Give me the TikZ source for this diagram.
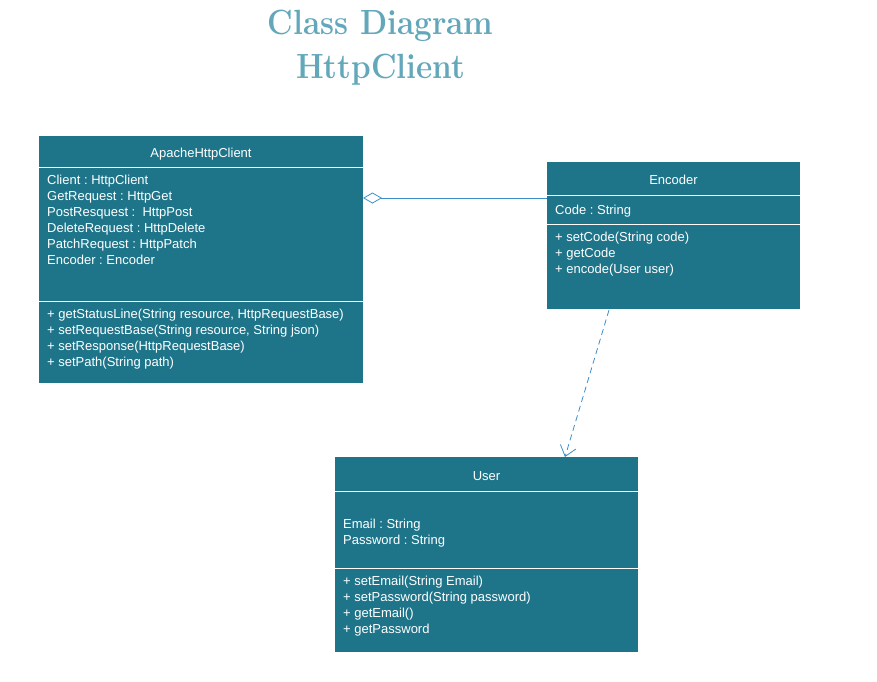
\documentclass[tikz,border=0pt]{standalone}
\usepackage{fontspec}
\setsansfont{Liberation Sans}
\usetikzlibrary{arrows.meta,calc}
\frenchspacing
\definecolor{boxfill}{HTML}{1E758A}
\definecolor{titlecol}{HTML}{63A7BA}
\definecolor{linkcol}{HTML}{3C8DC8}
\tikzset{
  umlbox/.style={draw=none, fill=boxfill, anchor=north west, inner sep=0pt, outer sep=0pt},
  ln/.style={text=white, font=\sffamily\fontsize{13}{15}\selectfont\frenchspacing, anchor=base west, inner sep=0pt},
  hd/.style={text=white, font=\sffamily\fontsize{13}{15}\selectfont, anchor=base, inner sep=0pt},
  divider/.style={draw=white, line width=1pt},
  titletext/.style={text=titlecol, font=\rmfamily\bfseries\fontsize{35}{40}\selectfont, inner sep=0pt, anchor=base}
}
\begin{document}
\begin{tikzpicture}[x=1pt,y=-1pt]
\useasboundingbox (0,0) rectangle (877,681);
% title
\node[titletext] (t1) at (380.5,34) {\scalebox{0.9}[1]{Class Diagram}};
\node[titletext] (t2) at (380.5,78) {\scalebox{0.9}[1]{HttpClient}};
% ApacheHttpClient
\node[umlbox, minimum width=324pt, minimum height=247pt] (apache) at (39,136) {};
\draw[divider] (39,167) -- (363,167);
\draw[divider] (39,301) -- (363,301);
\node[hd] (apT) at (201,157) {ApacheHttpClient};
\foreach \t [count=\i] in {Client : HttpClient, GetRequest : HttpGet, PostResquest :\ \ HttpPost, DeleteRequest : HttpDelete, PatchRequest : HttpPatch, Encoder : Encoder}
  \node[ln] (apA\i) at (47,{180+4.7+(\i-1)*16}) {\t};
\foreach \t [count=\i] in {{+ getStatusLine(String resource, HttpRequestBase)}, {+ setRequestBase(String resource, String json)}, {+ setResponse(HttpRequestBase)}, {+ setPath(String path)}}
  \node[ln] (apM\i) at (47,{314+4.7+(\i-1)*16}) {\t};
% Encoder
\node[umlbox, minimum width=253pt, minimum height=147pt] (enc) at (547,162) {};
\draw[divider] (547,195) -- (800,195);
\draw[divider] (547,224) -- (800,224);
\node[hd] (encT) at (673.5,184) {Encoder};
\node[ln] (encA1) at (555,214.7) {Code : String};
\foreach \t [count=\i] in {{+ setCode(String code)}, {+ getCode}, {+ encode(User user)}}
  \node[ln] (encM\i) at (555,{237+4.7+(\i-1)*16}) {\t};
% User
\node[umlbox, minimum width=303pt, minimum height=195pt] (user) at (335,457) {};
\draw[divider] (335,491) -- (638,491);
\draw[divider] (335,568) -- (638,568);
\node[hd] (userT) at (486.5,480) {User};
\node[ln] (userA1) at (343,528.7) {Email : String};
\node[ln] (userA2) at (343,544.7) {Password : String};
\foreach \t [count=\i] in {{+ setEmail(String Email)}, {+ setPassword(String password)}, {+ getEmail()}, {+ getPassword}}
  \node[ln] (userM\i) at (343,{581+4.7+(\i-1)*16}) {\t};
% connectors
\draw[linkcol, line width=0.8pt, -{Diamond[open, length=19pt, width=11pt, line width=0.8pt]}]
  ($(enc.north west)+(0,36)$) -- ($(apache.north east)+(0,62)$);
\draw[linkcol, line width=0.8pt, dash pattern=on 6pt off 4pt, -{Straight Barb[length=10pt, width=16pt, line width=0.8pt]}]
  ($(enc.south west)+(62,1)$) -- ($(user.north west)+(230,0)$);
\end{tikzpicture}
\end{document}
